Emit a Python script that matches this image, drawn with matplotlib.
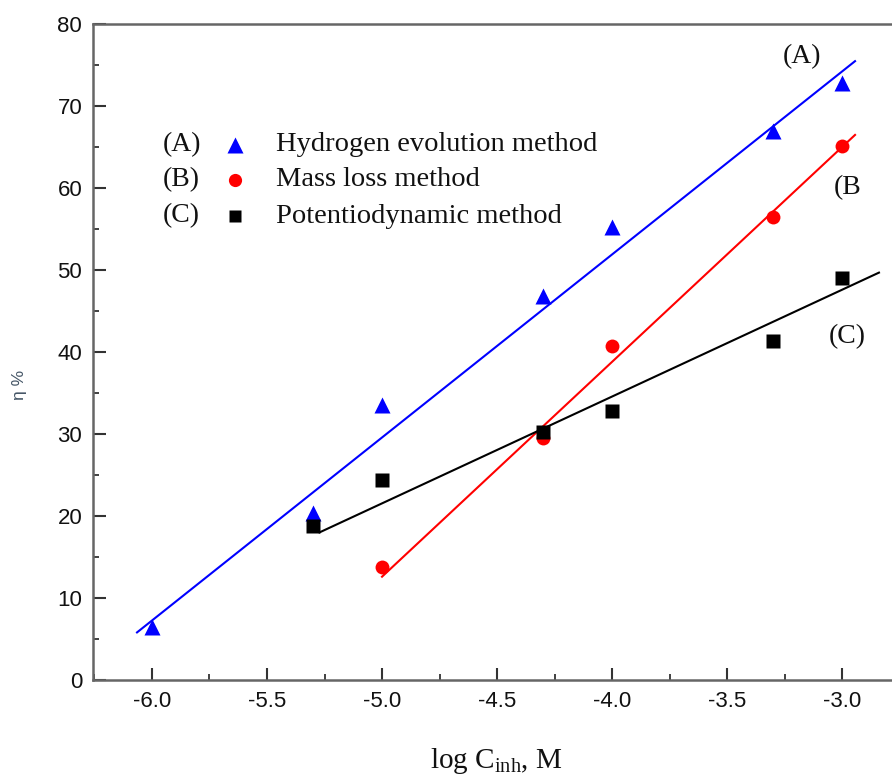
import matplotlib.pyplot as plt
from matplotlib.ticker import MultipleLocator

# log C_inh (M) for each method
xA = [-6.0, -5.3, -5.0, -4.3, -4.0, -3.3, -3.0]
yA = [6.5, 20.4, 33.5, 46.8, 55.3, 67.0, 72.8]   # hydrogen evolution
xB = [-5.0, -4.3, -4.0, -3.3, -3.0]
yB = [13.8, 29.5, 40.7, 56.5, 65.1]               # mass loss
xC = [-5.3, -5.0, -4.3, -4.0, -3.3, -3.0]
yC = [18.8, 24.4, 30.3, 32.8, 41.3, 49.1]         # potentiodynamic

# straight fit lines (end points)
fitA_x = [-6.065, -2.944]
fitA_y = [5.8, 75.5]
fitB_x = [-5.0, -2.944]
fitB_y = [12.6, 66.5]
fitC_x = [-5.272, -2.84]
fitC_y = [18.0, 49.7]

legend_tags = ['(A)', '(B)', '(C)']
legend_names = ['Hydrogen evolution method', 'Mass loss method', 'Potentiodynamic method']

serif = 'Liberation Serif'
plt.rcParams['mathtext.fontset'] = 'custom'
plt.rcParams['mathtext.rm'] = serif
plt.rcParams['mathtext.it'] = serif + ':italic'

fig = plt.figure(figsize=(8.92, 7.83), dpi=100)
ax = fig.add_axes([0.1046, 0.1316, 0.904, 0.8374])

ax.plot(fitA_x, fitA_y, color='blue', lw=1.5)
ax.plot(fitB_x, fitB_y, color='red', lw=1.5)
ax.plot(fitC_x, fitC_y, color='black', lw=1.5)
ax.plot(xA, yA, '^', color='blue', ms=11, mec='none')
ax.plot(xB, yB, 'o', color='red', ms=10, mec='none')
ax.plot(xC, yC, 's', color='black', ms=9.5, mec='none')

ax.set_xlim(-6.255, -2.75)
ax.set_ylim(0, 80)
ax.xaxis.set_major_locator(MultipleLocator(0.5))
ax.xaxis.set_minor_locator(MultipleLocator(0.25))
ax.yaxis.set_major_locator(MultipleLocator(10))
ax.yaxis.set_minor_locator(MultipleLocator(5))
ax.xaxis.set_major_formatter(lambda v, p: f'{v:.1f}')

for s in ['left', 'bottom', 'top']:
    ax.spines[s].set_color('#666666')
    ax.spines[s].set_linewidth(1.8)
ax.spines['right'].set_visible(False)

ax.tick_params(which='major', direction='in', length=9, width=1.5, color='#333333',
               labelsize=16, pad=8, top=False, right=False)
ax.tick_params(which='minor', direction='in', length=4.5, width=1.3, color='#333333',
               top=False, right=False)
for lab in ax.get_xticklabels() + ax.get_yticklabels():
    lab.set_fontfamily('Liberation Sans')
    lab.set_color('#111111')

ax.set_xlabel(r'log C$_{\rm inh}$, M', fontsize=21, family=serif, color='#111111')
ax.xaxis.set_label_coords(0.5, -0.1)
ax.set_ylabel('η %', fontsize=12.5, family='Liberation Sans', color='#445566')
ax.yaxis.set_label_coords(-0.082, 0.45)

# legend drawn as text rows
rows_y = [65.3, 61.0, 56.6]
marks = [('^', 'blue', 11), ('o', 'red', 9.5), ('s', 'black', 9)]
for tag, name, ry, (m, c, ms) in zip(legend_tags, legend_names, rows_y, marks):
    ax.text(-5.952, ry, tag, fontsize=20, family=serif, va='center', ha='left', color='#111111')
    ax.plot([-5.638], [ry], m, color=c, ms=ms, mec='none')
    ax.text(-5.46, ry, name, fontsize=20.5, family=serif, va='center', ha='left', color='#111111')

# curve labels
ax.text(-3.174, 76.1, '(A)', fontsize=20, family=serif, ha='center', va='center', color='#111111')
ax.text(-2.975, 60.1, '(B', fontsize=20, family=serif, ha='center', va='center', color='#111111')
ax.text(-2.978, 41.9, '(C)', fontsize=20, family=serif, ha='center', va='center', color='#111111')

fig.savefig('out.png', dpi=100)
